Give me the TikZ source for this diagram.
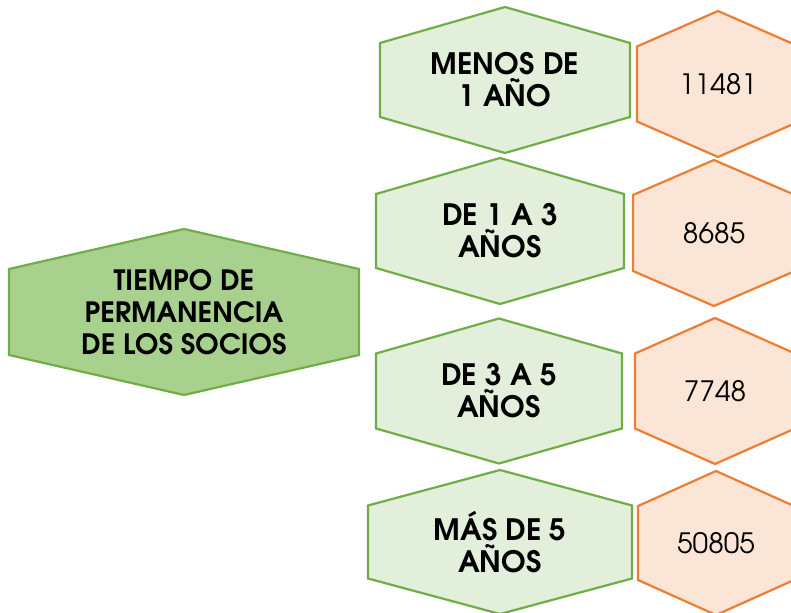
\documentclass[tikz,border=0pt]{standalone}
\usepackage{fontspec}
\setmainfont{texgyreadventor}[Extension=.otf,UprightFont=*-regular,BoldFont=*-bold]
\definecolor{gborder}{HTML}{70AD47}
\definecolor{gmain}{HTML}{A9D18E}
\definecolor{glight}{HTML}{E2EFDA}
\definecolor{oborder}{HTML}{ED7D31}
\definecolor{olight}{HTML}{FBE5D6}
\newcommand\hexshape[6]{%
  \draw[#1] ({#2-#4},{#3-#5}) -- (#2,{#3-#6}) -- ({#2+#4},{#3-#5}) -- ({#2+#4},{#3+#5}) -- (#2,{#3+#6}) -- ({#2-#4},{#3+#5}) -- cycle;}
\tikzset{
  mainhex/.style={draw=gborder, fill=gmain, line width=2.2pt, line join=miter},
  greenhex/.style={draw=gborder, fill=glight, line width=2.2pt, line join=miter},
  orangehex/.style={draw=oborder, fill=olight, line width=2.2pt, line join=miter},
  mainlbl/.style={align=center, inner sep=0pt, font=\bfseries\fontsize{28}{31.7}\selectfont},
  grnlbl/.style={align=center, inner sep=0pt, font=\bfseries\fontsize{29.5}{32}\selectfont},
  numlbl/.style={align=center, inner sep=0pt, font=\fontsize{28}{32}\selectfont},
}
\begin{document}
\begin{tikzpicture}[x=1pt,y=-1pt]
\useasboundingbox (0,0) rectangle (791,612);
\fill[white] (0,0) rectangle (791,612);
% main
\hexshape{mainhex}{184}{312}{175}{43}{83}
\node[mainlbl] (main) at (184,312) {TIEMPO DE\\PERMANENCIA\\DE LOS SOCIOS};
% row 1
\hexshape{greenhex}{505}{80}{125}{37}{73}
\node[grnlbl] (g1) at (505,80) {MENOS DE\\1 AÑO};
\hexshape{orangehex}{718}{84}{81}{37.5}{73}
\node[numlbl] (o1) at (718,84) {11481};
% row 2
\hexshape{greenhex}{500}{231}{124}{37}{73}
\node[grnlbl] (g2) at (500,231) {DE 1 A 3\\AÑOS};
\hexshape{orangehex}{714}{233}{81}{38}{73}
\node[numlbl] (o2) at (714,233) {8685};
% row 3
\hexshape{greenhex}{499}{391}{123}{37.5}{72.5}
\node[grnlbl] (g3) at (499,391) {DE 3 A 5\\AÑOS};
\hexshape{orangehex}{715}{391}{80}{37.5}{73}
\node[numlbl] (o3) at (715,391) {7748};
% row 4
\hexshape{greenhex}{500}{542}{132}{36.5}{72}
\node[grnlbl] (g4) at (500,542) {MÁS DE 5\\AÑOS};
\hexshape{orangehex}{716}{543}{78}{37}{72}
\node[numlbl] (o4) at (716,543) {50805};
\end{tikzpicture}
\end{document}
